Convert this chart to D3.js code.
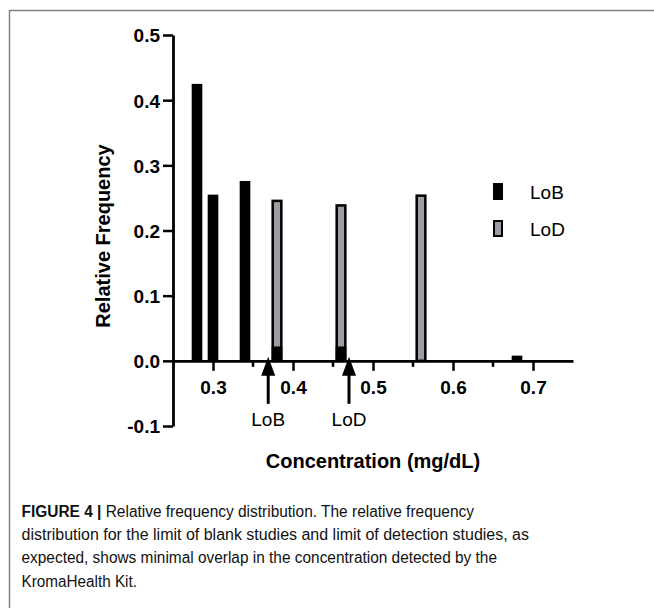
<!DOCTYPE html>
<html>
<head>
<meta charset="utf-8">
<script src="https://cdn.jsdelivr.net/npm/d3@7"></script>
<style>
  body { margin: 0; background: #fff; }
  svg { display: block; font-family: "Liberation Sans", Arial, sans-serif; }
</style>
</head>
<body>
<svg id="chart" width="654" height="608"></svg>
<script>
// data
const concentration = [0.28, 0.30, 0.34, 0.38, 0.46, 0.56, 0.68];
const lobFreq = [0.425, 0.255, 0.276, 0.022, 0.022, 0, 0.008];
const lodFreq = [0, 0, 0, 0.247, 0.240, 0.255, 0];
const seriesNames = ["LoB", "LoD"];
const xTicks = [0.3, 0.4, 0.5, 0.6, 0.7];
const xMinorTicks = [0.35, 0.45, 0.55, 0.65];
const yTicks = [-0.1, 0.0, 0.1, 0.2, 0.3, 0.4, 0.5];
const markerLabels = ["LoB", "LoD"];
const markerValues = [0.369, 0.470];
const captionBold = "FIGURE 4 | ";
const captionLines = [
  "Relative frequency distribution. The relative frequency",
  "distribution for the limit of blank studies and limit of detection studies, as",
  "expected, shows minimal overlap in the concentration detected by the",
  "KromaHealth Kit."
];

const svg = d3.select("#chart");
const grey = "#9c9ca4";
const fmt = d => d3.format(".1f")(d).replace("\u2212", "-");

// frame
svg.append("line").attr("x1", 9.5).attr("x2", 654).attr("y1", 10.5).attr("y2", 10.5)
   .attr("stroke", "#808080").attr("stroke-width", 1.5);
svg.append("line").attr("x1", 9.5).attr("x2", 9.5).attr("y1", 10).attr("y2", 608)
   .attr("stroke", "#808080").attr("stroke-width", 1.5);

const x = d3.scaleLinear().domain([0.25, 0.75]).range([173, 573]);
const y = d3.scaleLinear().domain([-0.1, 0.5]).range([426, 35]);
const barW = 0.0133;

// bars: LoD behind, LoB in front
const rows = concentration.map((c, i) => ({c, lob: lobFreq[i], lod: lodFreq[i]}));
svg.append("g").selectAll("rect").data(rows.filter(d => d.lod > 0)).join("rect")
   .attr("x", d => x(d.c - barW / 2) + 1)
   .attr("width", d => x(d.c + barW / 2) - x(d.c - barW / 2) - 2)
   .attr("y", d => y(d.lod) + 1)
   .attr("height", d => y(0) - y(d.lod) - 1)
   .attr("fill", grey).attr("stroke", "#000").attr("stroke-width", 2.5);
svg.append("g").selectAll("rect").data(rows.filter(d => d.lob > 0)).join("rect")
   .attr("x", d => x(d.c - barW / 2))
   .attr("width", d => x(d.c + barW / 2) - x(d.c - barW / 2))
   .attr("y", d => y(d.lob))
   .attr("height", d => y(0) - y(d.lob))
   .attr("fill", "#000");

// axes
const yAxis = svg.append("g").attr("transform", `translate(${x(0.25)},0)`)
   .call(d3.axisLeft(y).tickValues(yTicks).tickFormat(fmt)
        .tickSize(10).tickSizeOuter(0).tickPadding(3));
const xAxis = svg.append("g").attr("transform", `translate(0,${y(0)})`)
   .call(d3.axisBottom(x).tickValues(xTicks).tickFormat(fmt)
        .tickSize(10).tickSizeOuter(0).tickPadding(10));
xAxis.selectAll(".minor").data(xMinorTicks).join("line").attr("class", "minor")
   .attr("x1", d => x(d)).attr("x2", d => x(d)).attr("y1", 0).attr("y2", 6)
   .attr("stroke", "#000").attr("stroke-width", 2.5);
[xAxis, yAxis].forEach(g => {
  g.attr("font-family", null);
  g.select(".domain").attr("stroke-width", 2.8);
  g.selectAll(".tick line").attr("stroke-width", 2.5);
  g.selectAll(".tick text").attr("font-size", 19).attr("font-weight", "bold").attr("fill", "#000");
});
yAxis.selectAll(".tick text").attr("dy", "0.36em");

// axis titles
svg.append("text").attr("transform", `translate(110,236) rotate(-90)`)
   .attr("text-anchor", "middle").attr("font-size", 20).attr("font-weight", "bold")
   .text("Relative Frequency");
svg.append("text").attr("x", x(0.5)).attr("y", 468)
   .attr("text-anchor", "middle").attr("font-size", 20).attr("font-weight", "bold")
   .text("Concentration (mg/dL)");

// LoB / LoD arrows
const marker = svg.append("g").selectAll("g").data(markerValues).join("g")
   .attr("transform", d => `translate(${x(d)},0)`);
marker.append("path")
   .attr("d", `M0,${y(0) - 4}L-7,${y(0) + 15}L7,${y(0) + 15}Z`).attr("fill", "#000");
marker.append("line").attr("x1", 0).attr("x2", 0)
   .attr("y1", y(0) + 14).attr("y2", y(0) + 43)
   .attr("stroke", "#000").attr("stroke-width", 3);
marker.append("text").attr("y", 426).attr("text-anchor", "middle")
   .attr("font-size", 19).text((d, i) => markerLabels[i]);

// legend
const legend = svg.append("g").selectAll("g").data(seriesNames).join("g")
   .attr("transform", (d, i) => `translate(493,${183 + i * 37})`);
legend.append("rect")
   .attr("x", (d, i) => i ? 1 : 0).attr("y", (d, i) => i ? 1 : 0)
   .attr("width", (d, i) => i ? 8 : 10).attr("height", (d, i) => i ? 15 : 17)
   .attr("fill", (d, i) => i ? grey : "#000")
   .attr("stroke", "#000").attr("stroke-width", (d, i) => i ? 2 : 0);
legend.append("text").attr("x", 37).attr("y", 16).attr("font-size", 19).text(d => d);

// caption
const cap = svg.append("g").attr("font-size", 16).attr("fill", "#111");
const capEnds = [474, 529, 497, 137];
captionLines.forEach((t, i) => {
  const line = cap.append("text").attr("x", 21.5).attr("y", 517 + i * 23.2)
     .attr("textLength", capEnds[i] - 21.5).attr("lengthAdjust", "spacingAndGlyphs");
  if (i === 0) line.append("tspan").attr("font-weight", "bold").text(captionBold);
  line.append("tspan").text(t);
});
</script>
</body>
</html>
